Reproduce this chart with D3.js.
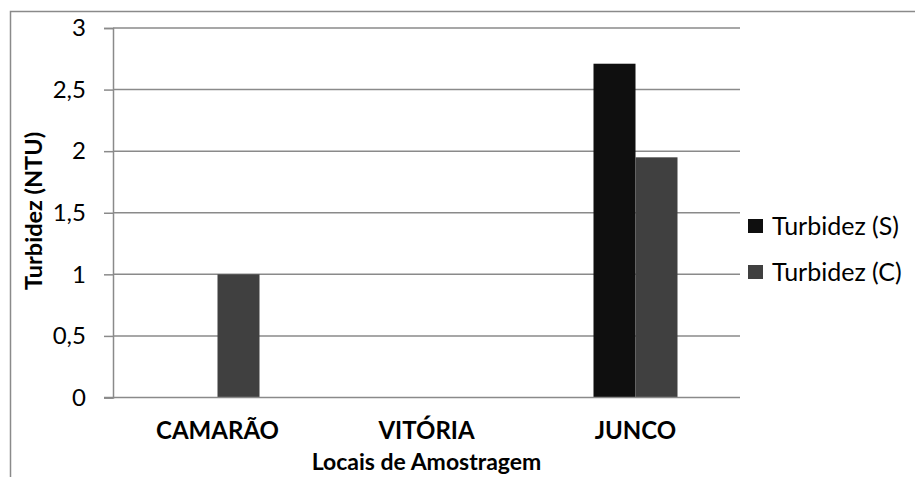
<!DOCTYPE html>
<html>
<head>
<meta charset="utf-8">
<script src="https://cdn.jsdelivr.net/npm/d3@7"></script>
<style>
  html, body { margin: 0; padding: 0; background: #fff; }
  svg { display: block; }
  text { font-family: Lato, "Open Sans", sans-serif; fill: #000; }
</style>
</head>
<body>
<svg id="chart" width="915" height="477"></svg>
<script>
// Sampling sites and turbidity readings (NTU)
const categories = ["CAMARÃO", "VITÓRIA", "JUNCO"];
const seriesNames = ["Turbidez (S)", "Turbidez (C)"];
const turbidezS = [0, 0, 2.71];
const turbidezC = [1.0, 0, 1.95];
const yTicks = [0, 0.5, 1, 1.5, 2, 2.5, 3];
const yTickLabels = ["0", "0,5", "1", "1,5", "2", "2,5", "3"];
const seriesColors = ["#0f0f0f", "#404040"];

const svg = d3.select("#chart");
const gridColor = "#8a8a8a";

// Outer chart frame
svg.append("rect")
  .attr("x", 10.5).attr("y", 11.5)
  .attr("width", 1000).attr("height", 1000)
  .attr("fill", "none").attr("stroke", gridColor).attr("stroke-width", 1.5);

const plot = { left: 113, right: 740, top: 28, bottom: 397.5 };

const x0 = d3.scaleBand().domain(categories).range([plot.left, plot.right]).padding(0);
const x1 = d3.scaleBand().domain(seriesNames).range([0, 84]).padding(0);
const y = d3.scaleLinear().domain([0, 3]).range([plot.bottom, plot.top]);

// Horizontal gridlines
svg.append("g").selectAll("line").data(yTicks.filter(d => d > 0)).join("line")
  .attr("x1", plot.left).attr("x2", plot.right)
  .attr("y1", d => y(d)).attr("y2", d => y(d))
  .attr("stroke", gridColor).attr("stroke-width", 1.5);

// Y axis with outside ticks
const yAxis = d3.axisLeft(y).tickValues(yTicks)
  .tickFormat((d, i) => yTickLabels[i]).tickSize(9).tickPadding(18);
const gy = svg.append("g").attr("transform", `translate(${plot.left},0)`).call(yAxis);
gy.select(".domain").attr("stroke", gridColor).attr("stroke-width", 1.5);
gy.selectAll(".tick line").attr("stroke", gridColor).attr("stroke-width", 1.5);
gy.selectAll(".tick text").attr("font-size", 24).attr("fill", "#000")
  .style("font-family", "Lato, sans-serif");

// Bars
const rows = categories.map((c, i) => ({ cat: c, vals: [turbidezS[i], turbidezC[i]] }));
svg.append("g").selectAll("g").data(rows).join("g")
  .attr("transform", d => `translate(${x0(d.cat) + x0.bandwidth() / 2 - 42},0)`)
  .selectAll("rect").data(d => d.vals.map((v, j) => ({ v, j }))).join("rect")
  .attr("x", d => x1(seriesNames[d.j]))
  .attr("width", x1.bandwidth())
  .attr("y", d => y(d.v))
  .attr("height", d => y(0) - y(d.v))
  .attr("fill", d => seriesColors[d.j]);

// X axis baseline
svg.append("line")
  .attr("x1", plot.left - 9).attr("x2", plot.right)
  .attr("y1", y(0)).attr("y2", y(0))
  .attr("stroke", gridColor).attr("stroke-width", 1.5);

// Category labels
svg.append("g").selectAll("text").data(categories).join("text")
  .attr("x", d => x0(d) + x0.bandwidth() / 2)
  .attr("y", 439)
  .attr("text-anchor", "middle")
  .attr("font-size", 24).attr("font-weight", "bold")
  .text(d => d);

// Axis titles
svg.append("text")
  .attr("x", (plot.left + plot.right) / 2).attr("y", 470)
  .attr("text-anchor", "middle").attr("font-size", 23).attr("font-weight", "bold")
  .text("Locais de Amostragem");

svg.append("text")
  .attr("transform", "translate(42,211) rotate(-90)")
  .attr("text-anchor", "middle").attr("font-size", 23.5).attr("font-weight", "bold")
  .text("Turbidez (NTU)");

// Legend
const legend = svg.append("g").selectAll("g").data(seriesNames).join("g")
  .attr("transform", (d, i) => `translate(748,${226 + i * 46})`);
legend.append("rect")
  .attr("x", 0).attr("y", -7).attr("width", 15).attr("height", 14)
  .attr("fill", (d, i) => seriesColors[i]);
legend.append("text")
  .attr("x", 24).attr("y", 0).attr("dy", "0.35em")
  .attr("font-size", 25)
  .text(d => d);
</script>
</body>
</html>
